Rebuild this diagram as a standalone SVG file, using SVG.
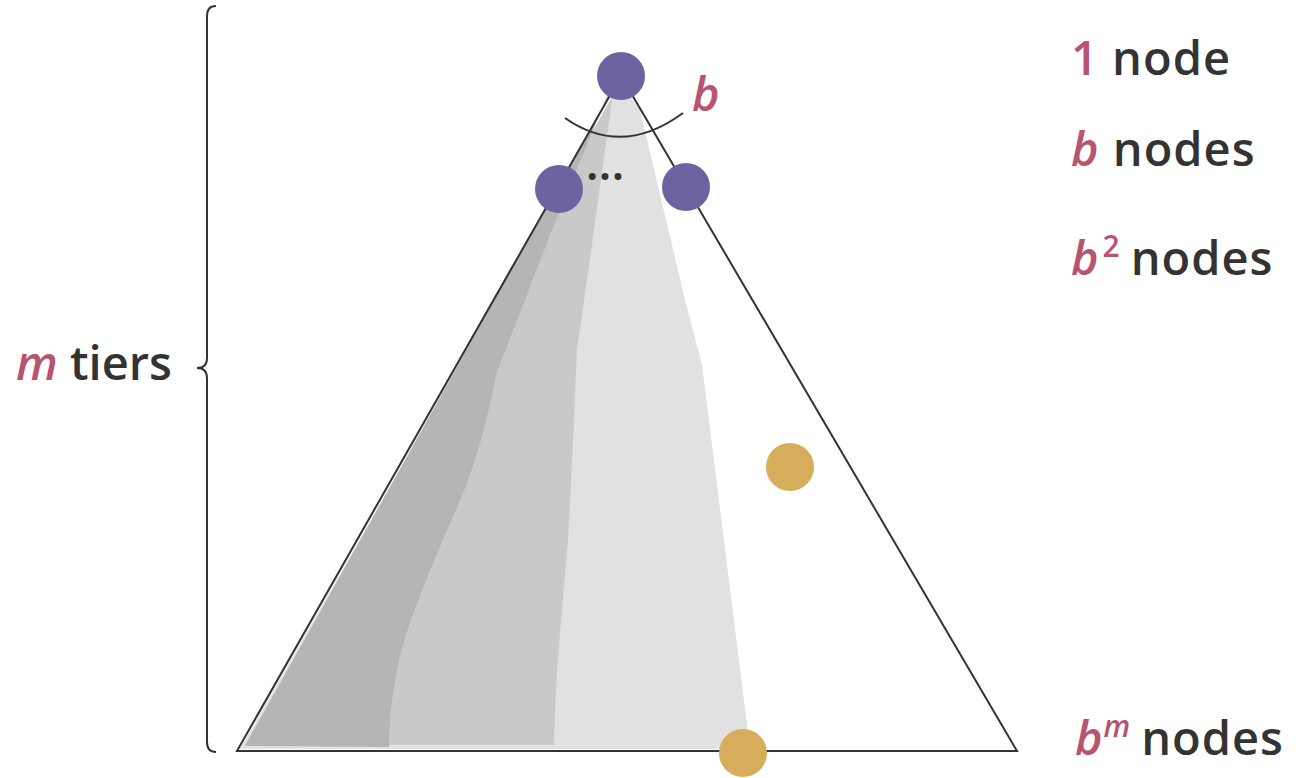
<svg xmlns="http://www.w3.org/2000/svg" width="1306" height="778" viewBox="0 0 1306 778">
<style>
  .lbl { font-family: "Open Sans", "Liberation Sans", sans-serif; font-weight: 600; font-size: 47px; fill: #333333; }
  .var { fill: #b8546f; font-style: italic; }
  .num { fill: #b8546f; }
  .edge { fill: none; stroke: #333333; stroke-width: 2; }
  .inner { fill: #6e63a1; }
  .goal { fill: #d6ad5a; }
</style>
<rect width="1306" height="778" fill="#ffffff"/>
<g id="shading">
  <path d="M620,82 L640,110 L685,300 L702,365 L750,749 L240,749 L620,84 Z" fill="#e1e1e1"/>
  <path d="M613,92 L594,230 L577,350 C574,420 572,470 568,540 C562,610 555,680 554,745 L245,745 L617,88 Z" fill="#c9c9c9"/>
  <path d="M607,96 L552,230 L497,372 C487,420 476,465 458,505 C432,565 408,620 398,665 C391,700 389,725 389,747 L245,746 L612,90 Z" fill="#b5b5b5"/>
</g>
<g id="connectors">
  <path class="edge" d="M621,76 L237,751 L1017,751 Z"/>
  <path class="edge" d="M565,118 Q622,158 683,113"/>
  <path class="edge" d="M216,6 Q207,6 207,16 L207,358 Q207,368 197,368 Q207,368 207,378 L207,742 Q207,752 216,752"/>
</g>
<g id="root"><circle class="inner" cx="621" cy="76" r="24"/></g>
<g id="child-left"><circle class="inner" cx="559" cy="189" r="24"/></g>
<g id="child-right"><circle class="inner" cx="686" cy="187" r="24"/></g>
<g id="goal-mid"><circle class="goal" cx="790" cy="467" r="24"/></g>
<g id="goal-bottom"><circle class="goal" cx="743" cy="753" r="24"/></g>
<g id="ellipsis"><text class="lbl" x="605" y="180" text-anchor="middle" font-size="26">...</text></g>
<g id="branch-label"><text class="lbl var" x="692" y="111">b</text></g>
<g id="tier-labels">
  <text class="lbl" x="1071" y="75" letter-spacing="1"><tspan class="num">1</tspan> node</text>
  <text class="lbl" x="1071" y="166" letter-spacing="1"><tspan class="var">b</tspan> nodes</text>
  <text class="lbl" x="1071" y="275" letter-spacing="1"><tspan class="var">b</tspan><tspan class="num" font-size="30" dy="-18" dx="3">2</tspan><tspan dy="18" dx="10">nodes</tspan></text>
  <text class="lbl" x="1075" y="755" letter-spacing="1"><tspan class="var">b</tspan><tspan class="var" font-size="30" dy="-18">m</tspan><tspan dy="18" dx="10">nodes</tspan></text>
  <text class="lbl" x="16" y="380" font-size="45"><tspan class="var">m</tspan> tiers</text>
</g>
</svg>
